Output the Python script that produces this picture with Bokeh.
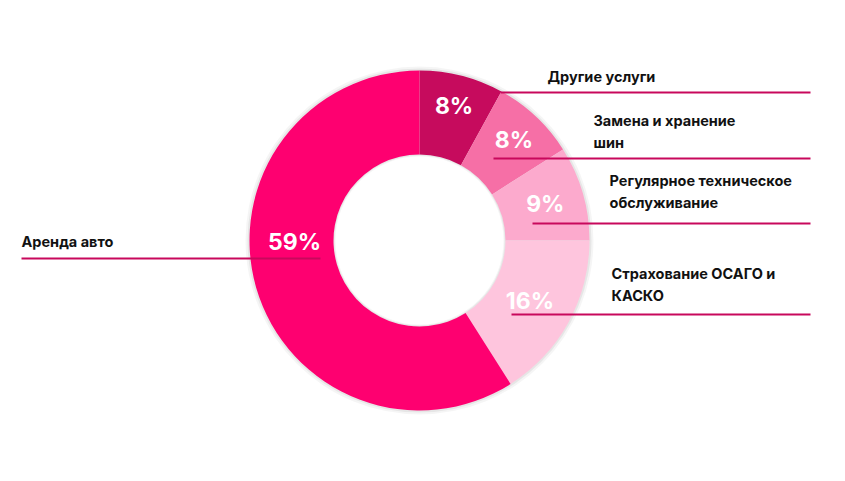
import numpy as np
from bokeh.plotting import figure
from bokeh.models import Range1d, ColumnDataSource
from bokeh.core.properties import value
from bokeh.embed import file_html
from bokeh.resources import INLINE

# data (clockwise from 12 o'clock)
categories = ["Другие услуги", "Замена и хранение шин", "Регулярное техническое обслуживание",
              "Страхование ОСАГО и КАСКО", "Аренда авто"]
shares = [8, 8, 9, 16, 59]
pct_labels = ["8%", "8%", "9%", "16%", "59%"]
colors = ["#c60b5d", "#f66fa6", "#fcaacd", "#fec5dd", "#fe0070"]

W, H = 829, 465
CX, CY = 419, 225
R_OUT, R_IN = 170, 86

p = figure(width=W, height=H, output_backend="svg", toolbar_location=None,
           x_range=Range1d(0, W), y_range=Range1d(0, H), min_border=0)
p.axis.visible = False
p.grid.visible = False
p.outline_line_color = None
p.background_fill_color = "white"

fr = np.array(shares) / sum(shares)
cum = np.concatenate([[0], np.cumsum(fr)])
start = np.pi / 2 - cum[:-1] * 2 * np.pi
end = np.pi / 2 - cum[1:] * 2 * np.pi
mid = (start + end) / 2

# faint shadow
for k, a in [(4, 0.04), (2, 0.06)]:
    p.annulus(x=CX, y=CY, inner_radius=R_IN - k / 2, outer_radius=R_OUT + k,
              inner_radius_units="screen", outer_radius_units="screen",
              fill_color="#000000", fill_alpha=a, line_color=None)

src = ColumnDataSource(dict(start=start, end=end, color=colors))
p.annular_wedge(x=CX, y=CY, inner_radius=R_IN, outer_radius=R_OUT,
                inner_radius_units="screen", outer_radius_units="screen",
                start_angle="start", end_angle="end", direction="clock",
                fill_color="color", line_color=None, source=src)

# percent labels
lab_r = [139, 138, 131, 126, 125]
lab_ang = list(mid[:4]) + [np.pi * 1.005]
lx = [CX + r * np.cos(a) for r, a in zip(lab_r, lab_ang)]
ly = [CY + r * np.sin(a) for r, a in zip(lab_r, lab_ang)]
p.text(x=lx, y=ly, text=pct_labels, text_color="white", text_font=value("Inter"),
       text_font_style="bold", text_font_size="23px", text_align="center",
       text_baseline="middle")

# leader lines
line_col = "#c8085c"
lines = [(500, 810, 373), (493, 810, 307), (532, 810, 242), (511, 810, 151), (21, 320, 207)]
for x0, x1, y in lines:
    p.line(x=[x0, x1], y=[y, y], line_color=line_col, line_width=2)

# category labels
cat_lines = [["Другие услуги"], ["Замена и хранение", "шин"],
             ["Регулярное техническое", "обслуживание"],
             ["Страхование ОСАГО и", "КАСКО"], ["Аренда авто"]]
cat_pos = [(547, 389), (593, 345), (609, 285), (611, 192), (21, 224)]
for (x0, y0), txt in zip(cat_pos, cat_lines):
    ys = [y0 - 22 * i for i in range(len(txt))]
    p.text(x=[x0] * len(txt), y=ys, text=txt, text_color="#111111",
           text_font=value("Inter"), text_font_style="bold", text_font_size="14.5px",
           text_align="left", text_baseline="middle")

open("out.html", "w").write(file_html(p, INLINE))
